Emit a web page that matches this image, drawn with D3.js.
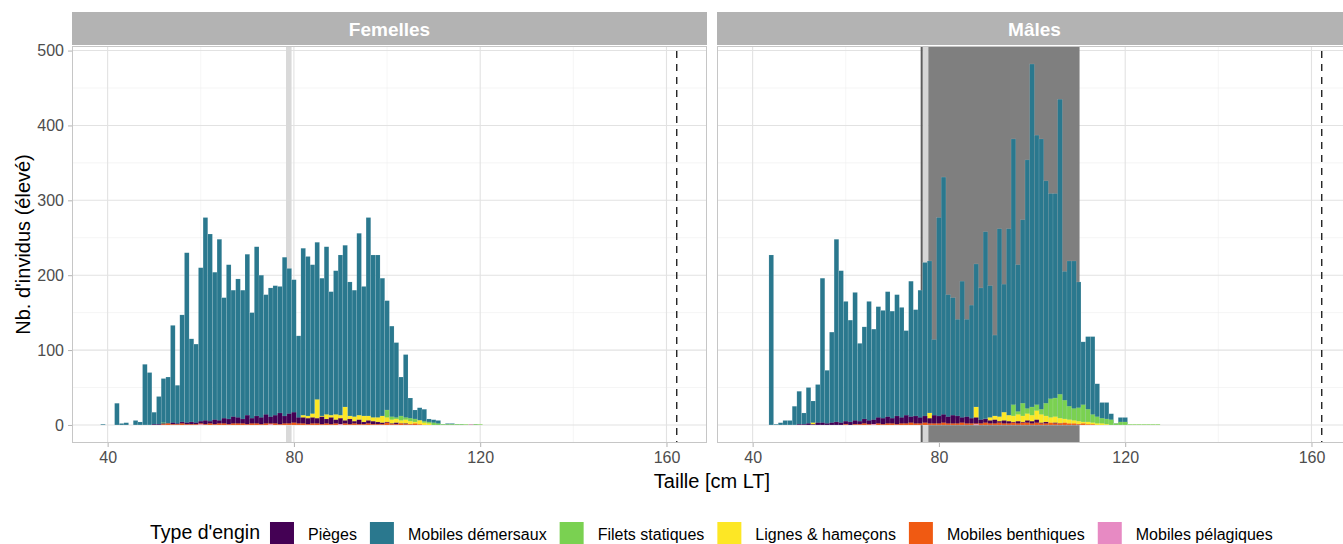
<!DOCTYPE html>
<html><head><meta charset="utf-8">
<script src="https://cdn.jsdelivr.net/npm/d3@7"></script>
<style>
body{margin:0;background:#fff;}
svg{display:block;font-family:"Liberation Sans",Arial,Helvetica,sans-serif;}
</style>
</head><body>
<svg id="chart" width="1343" height="544"></svg>
<script>
// ---------------- DATA ----------------
const tailles = [39,40,41,42,43,44,45,46,47,48,49,50,51,52,53,54,55,56,57,58,59,60,61,62,63,64,65,66,67,68,69,70,71,72,73,74,75,76,77,78,79,80,81,82,83,84,85,86,87,88,89,90,91,92,93,94,95,96,97,98,99,100,101,102,103,104,105,106,107,108,109,110,111,112,113,114,115,116,117,118,119,120,121,122,123,124,125,126,127];

const engins = ["Pièges","Mobiles démersaux","Filets statiques","Lignes & hameçons","Mobiles benthiques","Mobiles pélagiques"];
const sexes = ["Femelles","Mâles"];
const xTicks = [40,80,120,160];
const yTicks = [0,100,200,300,400,500];

// Femelles
const femPieges = [0,0,0,0,0,0,0,0,0,0, 0,1,1,2,2,3,2,4,3,4, 3,5,6,5,7,6,9,8,11,10, 8,13,9,12,10,14,11,13,16,12, 15,17,10,10,9,10,9,11,8,10, 7,9,6,8,5,7,4,6,5,4, 3,4,2,3,2,2,1,1,0,0, 0,0,0,0,0,0,0,0,0,0, 0,0,0,0,0,0,0,0,0];
const femDemersaux = [1,0,0,29,2,3,0,6,4,81, 70,17,38,62,64,133,53,147,230,115, 108,210,277,255,204,248,170,214,180,195, 180,228,150,238,200,174,183,186,185,224, 209,194,119,236,225,214,244,196,238,178, 206,227,240,191,180,256,185,277,227,227, 196,166,132,110,64,94,36,20,23,21, 8,7,6,1,2,2,1,1,0,1, 1,0,0,0,0,0,0,0,0];
const femFilets = [0,0,0,0,0,0,0,0,0,0, 0,0,0,3,0,0,0,0,0,0, 0,0,0,0,0,0,0,0,0,0, 0,0,0,0,0,0,0,0,0,0, 0,0,0,0,0,0,0,0,0,0, 0,0,0,0,0,0,3,4,5,6, 8,20,11,10,12,10,9,8,6,5, 4,3,2,1,1,1,1,1,1,1, 1,1,0,0,0,0,0,0,0];
const femLignes = [0,0,0,0,0,0,0,0,0,0, 0,0,0,0,0,0,0,0,0,0, 0,0,0,0,0,0,0,0,0,0, 0,5,0,0,0,0,6,0,0,8, 4,6,8,13,12,15,34,12,14,13, 14,13,24,12,11,13,12,12,10,10, 12,10,7,8,6,7,5,4,6,3, 2,0,0,0,0,0,0,0,0,0, 0,0,0,0,0,0,0,0,0];
const femBenthiques = [0,0,0,0,0,0,0,0,0,0, 0,0,0,1,2,1,1,2,1,1, 1,2,1,2,1,2,2,1,2,2, 2,1,2,2,1,2,2,2,1,2, 2,3,2,2,1,2,2,1,2,1, 2,1,2,1,2,1,1,2,1,1, 1,3,1,1,2,1,1,2,1,0, 0,0,0,0,0,0,0,0,0,0, 0,0,0,0,0,0,0,0,0];
const femPelagiques = [0,0,0,0,0,0,0,0,0,0, 0,0,0,0,0,0,0,0,0,0, 0,1,0,0,0,0,0,0,0,0, 0,0,0,0,0,0,1,0,0,0, 0,0,0,0,0,0,0,0,0,0, 0,1,0,0,0,0,0,0,0,0, 0,0,0,0,0,0,0,0,0,0, 0,0,0,0,0,0,0,0,0,1, 0,0,0,0,0,0,0,0,0];

// Mâles
const malPieges = [0,0,0,0,0,0,0,0,0,0, 0,1,1,2,1,3,3,2,3,4, 3,5,4,6,5,8,6,7,10,9, 11,9,12,10,13,11,12,10,12,9, 13,12,14,11,13,12,10,11,9,10, 7,8,6,7,5,6,5,4,5,4, 6,5,7,3,4,2,3,2,2,1, 1,1,0,0,0,0,0,0,0,0, 0,0,0,0,0,0,0,0,0];
const malDemersaux = [0,0,0,0,0,227,1,3,6,6, 25,45,16,50,32,54,196,73,124,248, 206,165,140,177,109,131,165,128,158,153, 178,152,174,157,126,192,154,180,217,219, 114,277,331,174,170,141,192,141,160,215, 183,258,186,120,262,188,262,382,214,274, 354,482,387,382,326,309,309,435,205,219, 219,191,111,118,118,55,30,30,15,2, 10,10,0,0,0,0,0,0,0];
const malFilets = [0,0,0,0,0,0,0,0,0,0, 0,0,0,0,0,0,0,0,0,0, 0,0,0,0,0,0,0,0,0,0, 0,0,0,0,0,0,0,0,0,0, 0,0,0,0,0,0,2,0,0,3, 0,4,0,6,8,10,12,27,18,29, 22,24,27,21,29,35,36,41,33,25, 22,23,27,21,14,11,9,8,7,2, 4,4,1,1,1,1,1,1,1];
const malLignes = [0,0,0,0,0,0,0,0,0,0, 0,0,0,0,3,0,0,0,0,0, 0,2,0,0,0,0,3,0,0,0, 0,4,0,5,0,6,8,5,7,16, 6,7,8,6,9,7,8,6,7,24, 6,8,10,12,11,17,13,12,14,12, 15,13,19,14,12,10,11,9,8,7, 6,5,4,4,3,2,2,1,0,0, 0,0,0,0,0,0,0,0,0];
const malBenthiques = [0,0,0,0,0,0,0,0,0,0, 0,0,0,0,0,0,0,0,0,0, 0,1,0,1,1,2,1,1,2,1, 2,2,1,2,2,3,2,2,3,2, 2,2,3,2,2,2,3,2,2,2, 2,3,2,2,3,2,2,3,2,3, 3,2,3,2,2,3,2,2,3,2, 2,1,2,1,1,0,0,0,0,0, 0,0,0,0,0,0,0,0,0];
const malPelagiques = [0,0,0,0,0,0,0,0,0,0, 0,0,0,0,0,0,0,0,0,0, 0,0,0,0,0,0,0,1,0,0, 0,0,0,0,0,0,0,0,0,0, 0,0,0,0,0,0,0,0,0,1, 0,0,0,0,0,0,0,0,0,0, 0,0,0,0,0,0,0,0,0,0, 0,0,0,0,0,0,0,0,0,0, 0,0,0,0,0,0,0,0,0];

// reference marks (cm LT)
const tailleMax = 162.2;               // dashed line
const femBande = [78.3, 79.5];         // light band, Femelles
const malBande = [76.5, 77.7];         // light band, Mâles
const malLigne = 76.3;                 // dark line, Mâles
const malZone = [77.7, 110.2];         // dark zone, Mâles

// ---------------- STYLE ----------------
const couleurs = ["#440154","#2A788E","#7AD151","#FDE725","#F05A12","#E78AC3"];
const ordreDessin = [1,2,3,0,4,5];

const seriesParSexe = [
  [femPieges,femDemersaux,femFilets,femLignes,femBenthiques,femPelagiques],
  [malPieges,malDemersaux,malFilets,malLignes,malBenthiques,malPelagiques]
];

const svg = d3.select("#chart");
const panelTop = 46, panelBottom = 443, stripTop = 12;
const panelsX = [[72,707],[717,1352]];

const maxVal = d3.max(seriesParSexe.flat(2));
const y = d3.scaleLinear().domain([-0.05*maxVal, 1.05*maxVal]).range([panelBottom, panelTop]);

const xDomain = [32.35, 168.7];

sexes.forEach((sexe, p) => {
  const [x0, x1] = panelsX[p];
  const x = d3.scaleLinear().domain(xDomain).range([x0, x1]);
  const g = svg.append("g");
  const cid = "clip" + p;
  svg.append("defs").append("clipPath").attr("id", cid)
    .append("rect").attr("x", x0).attr("y", panelTop).attr("width", x1 - x0).attr("height", panelBottom - panelTop);

  g.append("rect").attr("x", x0).attr("y", panelTop).attr("width", x1 - x0).attr("height", panelBottom - panelTop).attr("fill", "#fff");

  const grid = g.append("g").attr("clip-path", `url(#${cid})`);
  const yMinor = yTicks.slice(0, -1).map(t => t + 50);
  grid.selectAll(".ymin").data(yMinor).join("line")
    .attr("x1", x0).attr("x2", x1).attr("y1", d => y(d)).attr("y2", d => y(d))
    .attr("stroke", "#eeeeee").attr("stroke-width", 0.6);
  const xMinor = xTicks.slice(0, -1).map(t => t + 20);
  grid.selectAll(".xmin").data(xMinor).join("line")
    .attr("y1", panelTop).attr("y2", panelBottom).attr("x1", d => x(d)).attr("x2", d => x(d))
    .attr("stroke", "#eeeeee").attr("stroke-width", 0.6);
  grid.selectAll(".ymaj").data(yTicks).join("line")
    .attr("x1", x0).attr("x2", x1).attr("y1", d => y(d)).attr("y2", d => y(d))
    .attr("stroke", "#e2e2e2").attr("stroke-width", 1.1);
  grid.selectAll(".xmaj").data(xTicks).join("line")
    .attr("y1", panelTop).attr("y2", panelBottom).attr("x1", d => x(d)).attr("x2", d => x(d))
    .attr("stroke", "#e2e2e2").attr("stroke-width", 1.1);

  const content = g.append("g").attr("clip-path", `url(#${cid})`);
  if (p === 0) {
    content.append("rect").attr("x", x(femBande[0])).attr("width", x(femBande[1]) - x(femBande[0]))
      .attr("y", panelTop).attr("height", panelBottom - panelTop).attr("fill", "#d9d9d9");
  } else {
    content.append("rect").attr("x", x(malZone[0])).attr("width", x(malZone[1]) - x(malZone[0]))
      .attr("y", panelTop).attr("height", panelBottom - panelTop).attr("fill", "#7f7f7f");
    content.append("rect").attr("x", x(malBande[0])).attr("width", x(malBande[1]) - x(malBande[0]))
      .attr("y", panelTop).attr("height", panelBottom - panelTop).attr("fill", "#d6d6d6");
    content.append("line").attr("x1", x(malLigne)).attr("x2", x(malLigne))
      .attr("y1", panelTop).attr("y2", panelBottom).attr("stroke", "#5c5c5c").attr("stroke-width", 2);
  }

  ordreDessin.forEach(k => {
    const vals = seriesParSexe[p][k];
    const data = tailles.map((t, i) => ({t, v: vals[i]})).filter(d => d.v > 0);
    content.append("g").selectAll("rect").data(data).join("rect")
      .attr("x", d => x(d.t - 0.5))
      .attr("width", d => x(d.t + 0.5) - x(d.t - 0.5))
      .attr("y", d => y(d.v))
      .attr("height", d => y(0) - y(d.v))
      .attr("fill", couleurs[k])
      .attr("stroke", "#ffffff").attr("stroke-opacity", 0.22).attr("stroke-width", 0.5);
  });

  content.append("line").attr("x1", x(tailleMax)).attr("x2", x(tailleMax))
    .attr("y1", panelTop).attr("y2", panelBottom)
    .attr("stroke", "#222").attr("stroke-width", 1.4).attr("stroke-dasharray", "7,6")
    .attr("stroke-dashoffset", -5);

  g.append("rect").attr("x", x0 + 0.5).attr("y", panelTop + 0.5).attr("width", x1 - x0 - 1).attr("height", panelBottom - panelTop - 1)
    .attr("fill", "none").attr("stroke", "#c6c6c6").attr("stroke-width", 1);

  g.append("rect").attr("x", x0).attr("y", stripTop).attr("width", x1 - x0).attr("height", panelTop - stripTop - 1)
    .attr("fill", "#b3b3b3");
  g.append("text").attr("x", (x0 + x1) / 2).attr("y", 36)
    .attr("text-anchor", "middle").attr("fill", "#fff").attr("font-weight", "bold").attr("font-size", 19)
    .text(sexe);

  const xa = g.append("g").attr("transform", `translate(0,${panelBottom})`)
    .call(d3.axisBottom(x).tickValues(xTicks).tickSize(4).tickPadding(5).tickFormat(d3.format("d")));
  xa.select(".domain").remove();
  xa.selectAll(".tick line").attr("stroke", "#b3b3b3");
  xa.selectAll(".tick text").attr("fill", "#4d4d4d").attr("font-size", 16).attr("font-family", null);

  if (p === 0) {
    const ya = g.append("g").attr("transform", `translate(${x0},0)`)
      .call(d3.axisLeft(y).tickValues(yTicks).tickSize(4).tickPadding(4).tickFormat(d3.format("d")));
    ya.select(".domain").remove();
    ya.selectAll(".tick line").attr("stroke", "#b3b3b3");
    ya.selectAll(".tick text").attr("fill", "#4d4d4d").attr("font-size", 16).attr("font-family", null);
  }
});

svg.append("text").attr("x", (72 + 1352) / 2).attr("y", 488).attr("text-anchor", "middle")
  .attr("font-size", 20).attr("fill", "#000").text("Taille [cm LT]");
svg.append("text").attr("transform", `translate(30,${(panelTop + panelBottom) / 2}) rotate(-90)`)
  .attr("text-anchor", "middle").attr("font-size", 20).attr("fill", "#000").text("Nb. d'invidus (élevé)");

// legend
const leg = svg.append("g");
const legY = 522, sw = 24;
const title = leg.append("text").attr("x", 150).attr("y", 539).attr("font-size", 19.5).attr("fill", "#000").text("Type d'engin");
let cx = 150 + title.node().getComputedTextLength() + 10;
engins.forEach((e, k) => {
  leg.append("rect").attr("x", cx).attr("y", legY).attr("width", sw).attr("height", sw).attr("fill", couleurs[k]);
  const t = leg.append("text").attr("x", cx + sw + 14).attr("y", 540).attr("font-size", 16).attr("fill", "#000").text(e);
  cx = cx + sw + 14 + t.node().getComputedTextLength() + 13;
});
</script>
</body></html>
